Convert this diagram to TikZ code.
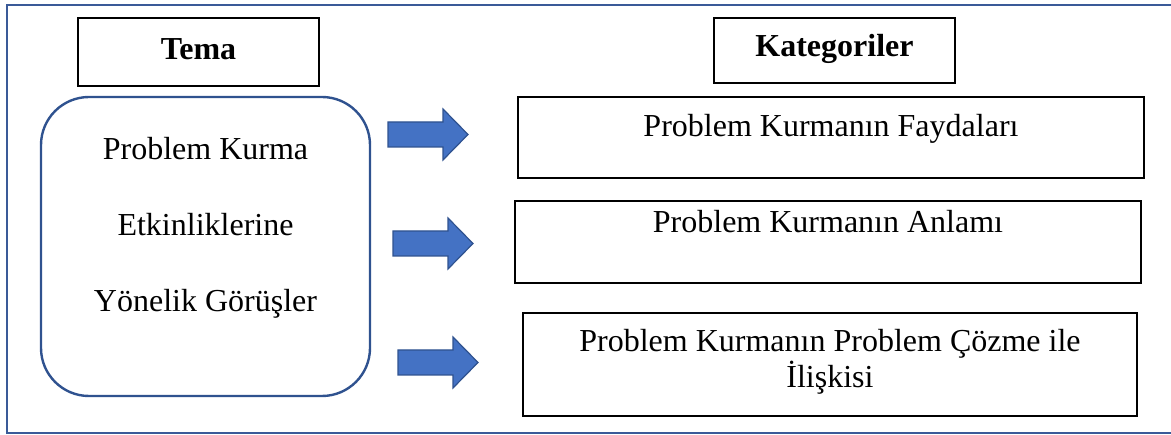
\documentclass[tikz,border=0pt]{standalone}
\usepackage{fontspec}
\setmainfont{Liberation Serif}
\begin{document}
\begin{tikzpicture}[x=1pt,y=-1pt,
  frameline/.style={draw=frameblue,line width=2.6pt},
  headbox/.style={draw=black,line width=1.4pt,rectangle,inner sep=0pt},
  catbox/.style={draw=black,line width=1.4pt,rectangle,inner sep=0pt},
  themebox/.style={draw=arrowedge,line width=2.4pt,rectangle,rounded corners=48pt,inner sep=0pt},
  txt/.style={font=\fontsize{32}{36}\selectfont,inner sep=0pt,anchor=base},
  headtxt/.style={txt,font=\fontsize{32}{36}\selectfont\bfseries},
  bluearrow/.pic={
    \draw[fill=arrowfill,draw=arrowedge,line width=1.2pt,line join=miter]
      (0,-12.5) -- (55,-12.5) -- (55,-25.5) -- (80,0) -- (55,25.5)
      -- (55,12.5) -- (0,12.5) -- cycle;
  }]
\definecolor{frameblue}{HTML}{3A5A98}
\definecolor{arrowfill}{HTML}{4472C4}
\definecolor{arrowedge}{HTML}{2F528F}

\useasboundingbox (0,0) rectangle (1171,435);

% outer frame (open on the right)
\draw[frameline] (1175,5) -- (7,5) -- (7,433) -- (1175,433);

% headings
\node[headbox,minimum width=241pt,minimum height=68pt] (tema) at (198.5,52) {};
\node[headtxt] at (198.5,60) {Tema};
\node[headbox,minimum width=241pt,minimum height=65pt] (kat) at (834.5,50.5) {};
\node[headtxt] at (834.5,57) {Kategoriler};

% theme
\node[themebox,minimum width=329pt,minimum height=299pt] (theme) at (205.5,246.5) {};
\node[txt] at (205.5,160) {Problem Kurma};
\node[txt] at (205.5,236) {Etkinliklerine};
\node[txt] at (205.5,312) {Yönelik Görüşler};

% categories
\node[catbox,minimum width=626pt,minimum height=81pt] (fay) at (831,137.5) {};
\node[txt] at (831,137) {Problem Kurmanın Faydaları};
\node[catbox,minimum width=626pt,minimum height=82pt] (anl) at (828,242) {};
\node[txt] at (828,233) {Problem Kurmanın Anlamı};
\node[catbox,minimum width=614pt,minimum height=103pt] (coz) at (830,364.5) {};
\node[txt,anchor=center,align=center] at (830,361.5)
  {Problem Kurmanın Problem Çözme ile\\İlişkisi};

% block arrows
\pic at (388,134.5) {bluearrow};
\pic at (393,243.5) {bluearrow};
\pic at (398,362.5) {bluearrow};
\end{tikzpicture}
\end{document}
